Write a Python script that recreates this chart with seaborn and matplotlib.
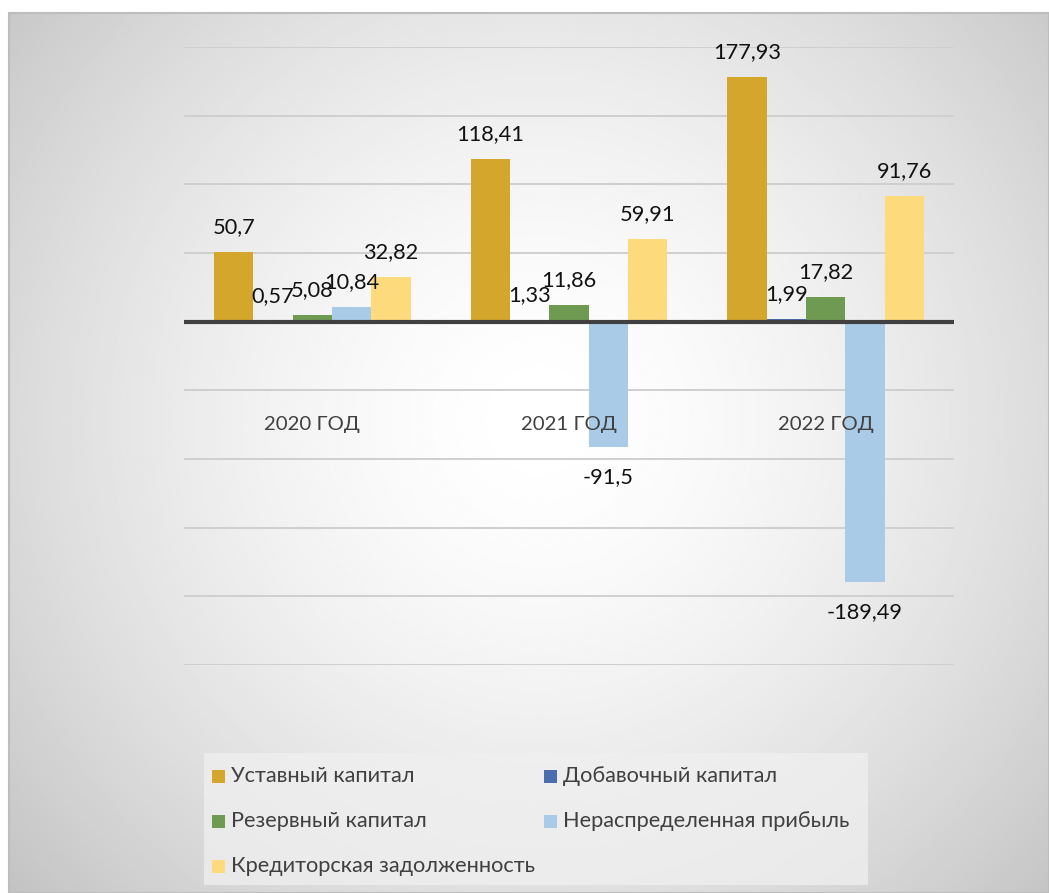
import numpy as np
import pandas as pd
import matplotlib
matplotlib.use("Agg")
import matplotlib.pyplot as plt
from matplotlib.patches import Rectangle
import seaborn as sns

years = ["2020 ГОД", "2021 ГОД", "2022 ГОД"]
series = ["Уставный капитал", "Добавочный капитал", "Резервный капитал",
          "Нераспределенная прибыль", "Кредиторская задолженность"]
ustavny = [50.7, 118.41, 177.93]
dobavochny = [0.57, 1.33, 1.99]
rezervny = [5.08, 11.86, 17.82]
neraspred = [10.84, -91.5, -189.49]
kreditor = [32.82, 59.91, 91.76]
colors = ["#D4A72C", "#4A6DB0", "#6F9A52", "#A9CBE8", "#FDDA7B"]

values = [ustavny, dobavochny, rezervny, neraspred, kreditor]
df = pd.DataFrame(
    [(y, s, v[i]) for s, v in zip(series, values) for i, y in enumerate(years)],
    columns=["year", "series", "value"],
)

sns.set_theme(style="white")
plt.rcParams["font.family"] = ["Lato", "DejaVu Sans"]

W, H = 1049, 893
fig = plt.figure(figsize=(W / 100, H / 100), dpi=100)
fig.patch.set_facecolor("white")


def px(x, y):
    """pixel position (from top-left) -> figure fraction"""
    return x / W, 1 - y / H


# radial gradient backdrop of the chart area
x0, y0 = 9, 13
bg = fig.add_axes([x0 / W, 0, 1 - x0 / W, 1 - y0 / H])
bg.set_axis_off()
gx, gy = np.meshgrid(np.linspace(x0, W, 400), np.linspace(y0, H, 400))
r = np.hypot(gx - 540, gy - 420) / 720
shade = 1 - 0.24 * np.clip(r, 0, 1) ** 1.6
bg.imshow(shade, cmap="gray", vmin=0, vmax=1, aspect="auto",
          extent=[0, 1, 0, 1], origin="upper")
fig.add_artist(Rectangle(px(x0, H), (W - x0) / W, (H - y0) / H,
                         transform=fig.transFigure, fill=False,
                         edgecolor="#bdbdbd", lw=1.5))

ax = fig.add_axes([184 / W, 1 - 665 / H, 770 / W, (665 - 47) / H])
ax.patch.set_alpha(0)
sns.barplot(data=df, x="year", y="value", hue="series", palette=colors,
            hue_order=series, order=years, width=0.766, errorbar=None,
            saturation=1, linewidth=0, ax=ax, legend=False, zorder=3)
ax.set_ylim(-250, 200)
ax.set_xlim(-0.5, 2.5)
for yv in np.arange(-250, 201, 50):
    if yv != 0:
        ax.axhline(yv, color="#cfcfcf", lw=1.4, zorder=1)
ax.axhline(0, color="#404040", lw=3, zorder=4)
for s in ax.spines.values():
    s.set_visible(False)
ax.set_xticks([])
ax.set_yticks([])
ax.set_xlabel("")
ax.set_ylabel("")

for container in ax.containers:
    for bar in container:
        v = bar.get_height()
        xc = bar.get_x() + bar.get_width() / 2
        off = 25 if v >= 0 else -30
        ax.annotate(f"{v:g}".replace(".", ","), (xc, v), xytext=(0, off),
                    textcoords="offset pixels", ha="center", va="center",
                    fontsize=15.7, color="#111111", zorder=6,
                    annotation_clip=False)

for i, y in enumerate(years):
    ax.text(i, -75, y, ha="center", va="center", fontsize=14.7,
            color="#404040", zorder=6)

# legend block
fig.add_artist(Rectangle(px(204, 885), (868 - 204) / W, (885 - 753) / H,
                         transform=fig.transFigure, facecolor="#f0f0f0",
                         edgecolor="none", alpha=0.75))
slots = [(212, 776), (544, 776), (212, 821), (544, 821), (212, 866)]
for (sx, sy), name, col in zip(slots, series, colors):
    fig.add_artist(Rectangle(px(sx, sy + 6.5), 13 / W, 13 / H,
                             transform=fig.transFigure, facecolor=col,
                             edgecolor="none"))
    fig.text(*px(sx + 19, sy), name, ha="left", va="center",
             fontsize=15.7, color="#404040")

fig.savefig("out.png", dpi=100)
